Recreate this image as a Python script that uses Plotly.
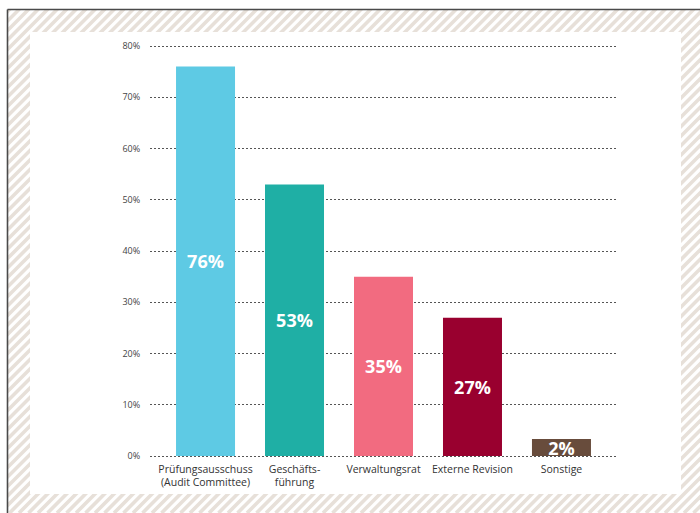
import plotly.graph_objects as go

# ---- data ----
categories = ["Prüfungsausschuss<br>(Audit Committee)", "Geschäfts-<br>führung",
              "Verwaltungsrat", "Externe Revision", "Sonstige"]
values = [76, 53, 35, 27, 2]            # shares shown as labels (%)
bar_heights = [76, 53, 35, 27, 3.3]     # drawn heights (%)
bar_colors = ["#5ECAE4", "#1FAFA5", "#F26B80", "#99002F", "#684C3C"]
y_ticks = [0, 10, 20, 30, 40, 50, 60, 70, 80]

W, H = 700, 513

def px(x):
    return x / W

def py(y):
    return 1 - y / H

fig = go.Figure()
fig.add_trace(go.Bar(
    x=categories,
    y=bar_heights,
    marker=dict(color=bar_colors, line=dict(width=0)),
    text=[f"{v}%" for v in values],
    textposition="inside",
    insidetextanchor="middle",
    constraintext="none",
    textangle=0,
    textfont=dict(family="Open Sans", size=18, color="white", weight="bold"),
    hoverinfo="skip",
    showlegend=False,
))

shapes = []
# hatched background stripes
stripe_color = "#E7E0D9"
period = 9.5
c = -H
while c < W + 10:
    shapes.append(dict(type="line", xref="paper", yref="paper",
                       x0=px(c), y0=py(H), x1=px(c + H), y1=py(0),
                       line=dict(color=stripe_color, width=3.6), layer="below"))
    c += period
# white panel
shapes.append(dict(type="rect", xref="paper", yref="paper",
                   x0=px(30), x1=px(681), y0=py(494), y1=py(32),
                   fillcolor="white", line=dict(width=0), layer="below"))
# white outer strips (top and left)
shapes.append(dict(type="rect", xref="paper", yref="paper",
                   x0=px(-5), x1=px(W + 5), y0=py(9.2), y1=py(-5),
                   fillcolor="white", line=dict(width=0), layer="below"))
shapes.append(dict(type="rect", xref="paper", yref="paper",
                   x0=px(-5), x1=px(7.2), y0=py(H + 5), y1=py(-5),
                   fillcolor="white", line=dict(width=0), layer="below"))
# border lines
shapes.append(dict(type="line", xref="paper", yref="paper",
                   x0=px(7.5), x1=px(W + 5), y0=py(9.5), y1=py(9.5),
                   line=dict(color="#4A4A4A", width=1.6), layer="below"))
shapes.append(dict(type="line", xref="paper", yref="paper",
                   x0=px(7.5), x1=px(7.5), y0=py(9.5), y1=py(H + 5),
                   line=dict(color="#4A4A4A", width=1.6), layer="below"))

ppu = (456 - 46) / 80.0
pad = 0.4

fig.update_layout(
    width=W, height=H,
    autosize=False,
    margin=dict(l=0, r=0, t=0, b=0, pad=0),
    paper_bgcolor="white",
    plot_bgcolor="rgba(0,0,0,0)",
    bargap=0.337,
    shapes=shapes,
    font=dict(family="Open Sans", color="#333333"),
    xaxis=dict(
        domain=[px(150), px(617)],
        range=[-0.624, 4.624],
        automargin=False,
        showgrid=False, zeroline=False, showline=False,
        ticks="outside", ticklen=1, tickcolor="rgba(0,0,0,0)",
        tickfont=dict(family="Open Sans", size=10.5, color="#333333"),
        fixedrange=True,
    ),
    yaxis=dict(
        domain=[py(456 + pad * ppu), py(46 - pad * ppu)],
        range=[-pad, 80 + pad],
        automargin=False,
        tickvals=y_ticks,
        ticktext=[f"{t}%" for t in y_ticks],
        showgrid=True, gridcolor="#555555", gridwidth=1, griddash="2px,2px",
        zeroline=False, showline=False,
        ticks="outside", ticklen=7, tickcolor="rgba(0,0,0,0)",
        tickfont=dict(family="Open Sans", size=9, color="#444444"),
        fixedrange=True,
    ),
)

fig.write_html("out.html")
